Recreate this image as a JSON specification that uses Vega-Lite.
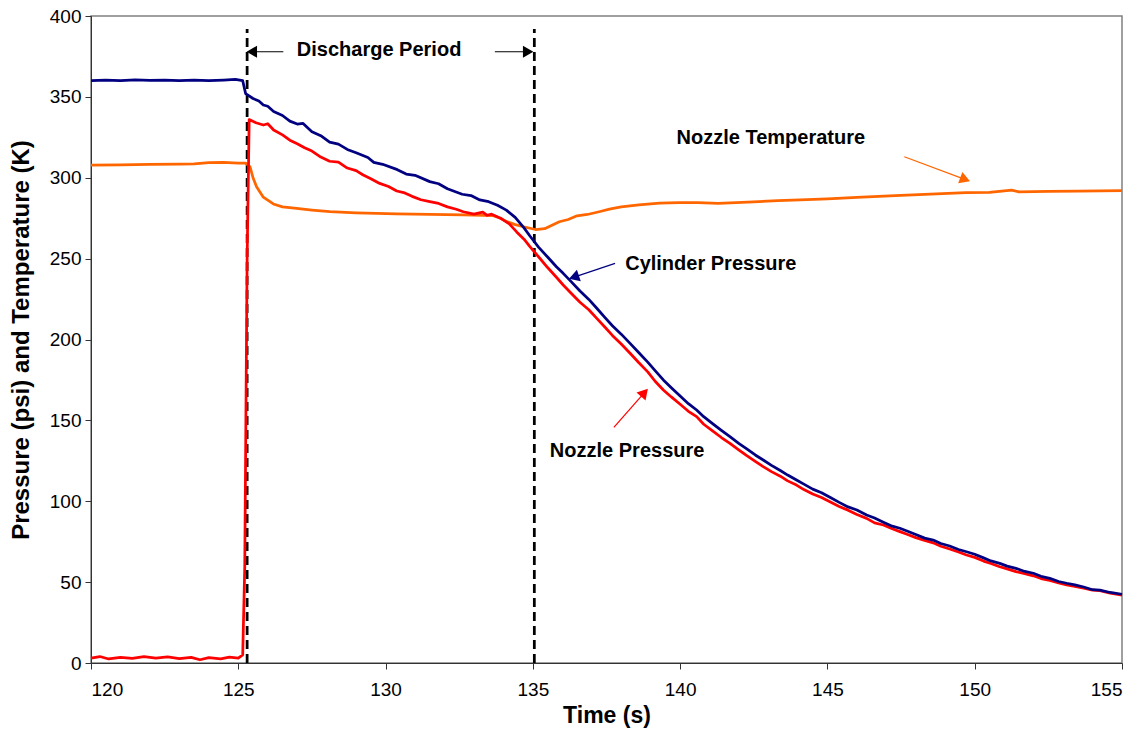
{
  "$schema": "https://vega.github.io/schema/vega-lite/v6.json",
  "width": 1031,
  "height": 647,
  "autosize": {"type": "none"},
  "padding": {"left": 91, "top": 16, "right": 19, "bottom": 75},
  "background": "white",
  "config": {
    "font": "Liberation Sans",
    "view": {"stroke": "#808080", "strokeWidth": 1.5},
    "axis": {
      "grid": false,
      "domainColor": "#333333",
      "tickColor": "#333333",
      "tickSize": 6,
      "labelFont": "Liberation Sans",
      "labelFontSize": 19,
      "labelColor": "#000000",
      "titleFont": "Liberation Sans",
      "titleFontWeight": "bold",
      "titleColor": "#000000"
    }
  },
  "datasets": {
    "cyl": [
      {"t": 120, "v": 360}, {"t": 120.5, "v": 360.3}, {"t": 121, "v": 360}, {"t": 121.5, "v": 360.5},
      {"t": 122, "v": 360.2}, {"t": 122.5, "v": 360.4}, {"t": 123, "v": 360}, {"t": 123.5, "v": 360.3},
      {"t": 124, "v": 360.1}, {"t": 124.5, "v": 360.4}, {"t": 124.9, "v": 360.8}, {"t": 125.15, "v": 360},
      {"t": 125.25, "v": 352}, {"t": 125.5, "v": 349}, {"t": 125.7, "v": 347.5}, {"t": 125.85, "v": 345},
      {"t": 126.0, "v": 344.2}, {"t": 126.2, "v": 341}, {"t": 126.5, "v": 338.5}, {"t": 126.75, "v": 335},
      {"t": 127, "v": 333.2}, {"t": 127.2, "v": 333.6}, {"t": 127.5, "v": 328.5}, {"t": 127.8, "v": 326},
      {"t": 128.1, "v": 322}, {"t": 128.4, "v": 320.8}, {"t": 128.7, "v": 317.5}, {"t": 129.0, "v": 315.5},
      {"t": 129.4, "v": 312.5}, {"t": 129.6, "v": 309.5}, {"t": 129.9, "v": 308.3}, {"t": 130.4, "v": 305},
      {"t": 130.7, "v": 302.3}, {"t": 131, "v": 301.5}, {"t": 131.5, "v": 297.6}, {"t": 131.8, "v": 296.3},
      {"t": 132.1, "v": 293.2}, {"t": 132.6, "v": 289.8}, {"t": 132.9, "v": 289}, {"t": 133.2, "v": 286.3},
      {"t": 133.5, "v": 285.2}, {"t": 133.8, "v": 283}, {"t": 134.1, "v": 280}, {"t": 134.4, "v": 275.5},
      {"t": 134.7, "v": 269}, {"t": 134.9, "v": 264}, {"t": 135.2, "v": 257}, {"t": 135.5, "v": 251},
      {"t": 135.8, "v": 245}, {"t": 136.03, "v": 240.9}, {"t": 136.3, "v": 235.8}, {"t": 136.6, "v": 230},
      {"t": 136.9, "v": 224.8}, {"t": 137.17, "v": 219.3}, {"t": 137.45, "v": 213.5}, {"t": 137.7, "v": 208.5},
      {"t": 138.0, "v": 203.3}, {"t": 138.3, "v": 197.6}, {"t": 138.6, "v": 191.8}, {"t": 138.9, "v": 186},
      {"t": 139.15, "v": 180.8}, {"t": 139.43, "v": 175}, {"t": 139.7, "v": 170.2}, {"t": 140, "v": 165},
      {"t": 140.28, "v": 160.3}, {"t": 140.56, "v": 156.4}, {"t": 140.8, "v": 152.3}, {"t": 141.1, "v": 148},
      {"t": 141.4, "v": 143.8}, {"t": 141.69, "v": 139.9}, {"t": 142.0, "v": 135.6}, {"t": 142.25, "v": 132.5},
      {"t": 142.55, "v": 128.6}, {"t": 142.82, "v": 125.5}, {"t": 143.1, "v": 122.2}, {"t": 143.4, "v": 119},
      {"t": 143.65, "v": 116.2}, {"t": 143.95, "v": 113.1}, {"t": 144.2, "v": 110.6}, {"t": 144.5, "v": 107.5},
      {"t": 144.8, "v": 105.3}, {"t": 145.1, "v": 102.3}, {"t": 145.4, "v": 99.3}, {"t": 145.7, "v": 96.5},
      {"t": 146.0, "v": 94.6}, {"t": 146.33, "v": 91.5}, {"t": 146.6, "v": 89.6}, {"t": 146.9, "v": 87},
      {"t": 147.2, "v": 84.6}, {"t": 147.46, "v": 83.3}, {"t": 147.7, "v": 81.6}, {"t": 148, "v": 79.5},
      {"t": 148.3, "v": 77.2}, {"t": 148.59, "v": 76}, {"t": 148.85, "v": 73.9}, {"t": 149.15, "v": 72.3},
      {"t": 149.45, "v": 70.2}, {"t": 149.72, "v": 68.8}, {"t": 150.0, "v": 67.2}, {"t": 150.3, "v": 65},
      {"t": 150.55, "v": 63.1}, {"t": 150.85, "v": 61.6}, {"t": 151.1, "v": 59.9}, {"t": 151.4, "v": 58.5},
      {"t": 151.7, "v": 56.6}, {"t": 151.99, "v": 55.5}, {"t": 152.25, "v": 53.6}, {"t": 152.55, "v": 52.3},
      {"t": 152.85, "v": 50.4}, {"t": 153.12, "v": 49.3}, {"t": 153.4, "v": 48.3}, {"t": 153.7, "v": 47},
      {"t": 154.0, "v": 45.3}, {"t": 154.25, "v": 45.1}, {"t": 154.6, "v": 43.6}, {"t": 155, "v": 42.5}
    ],
    "noz": [
      {"t": 120, "v": 3}, {"t": 120.3, "v": 4}, {"t": 120.6, "v": 2.5}, {"t": 121, "v": 3.5},
      {"t": 121.4, "v": 2.8}, {"t": 121.8, "v": 4}, {"t": 122.2, "v": 3}, {"t": 122.6, "v": 3.8},
      {"t": 123, "v": 2.7}, {"t": 123.4, "v": 3.5}, {"t": 123.7, "v": 2}, {"t": 124, "v": 3.3},
      {"t": 124.4, "v": 2.6}, {"t": 124.7, "v": 3.6}, {"t": 125, "v": 3}, {"t": 125.15, "v": 5},
      {"t": 125.22, "v": 60}, {"t": 125.3, "v": 250}, {"t": 125.37, "v": 336}, {"t": 125.6, "v": 334},
      {"t": 125.85, "v": 332.6}, {"t": 126.0, "v": 333.4}, {"t": 126.2, "v": 329.5}, {"t": 126.5, "v": 326.5},
      {"t": 126.75, "v": 323.2}, {"t": 127, "v": 321}, {"t": 127.25, "v": 318.6}, {"t": 127.5, "v": 316.5},
      {"t": 127.8, "v": 312.8}, {"t": 128.1, "v": 310.2}, {"t": 128.4, "v": 309.6}, {"t": 128.7, "v": 306},
      {"t": 129.0, "v": 304.4}, {"t": 129.24, "v": 301.7}, {"t": 129.5, "v": 299.4}, {"t": 129.8, "v": 296.5},
      {"t": 130.1, "v": 294.6}, {"t": 130.38, "v": 291.8}, {"t": 130.65, "v": 290.6}, {"t": 130.9, "v": 288.5},
      {"t": 131.2, "v": 286.4}, {"t": 131.5, "v": 285.2}, {"t": 131.8, "v": 284.1}, {"t": 132.1, "v": 282},
      {"t": 132.4, "v": 280.5}, {"t": 132.64, "v": 279}, {"t": 133, "v": 277.5}, {"t": 133.3, "v": 278.8},
      {"t": 133.45, "v": 276.8}, {"t": 133.6, "v": 277.5}, {"t": 133.9, "v": 275}, {"t": 134.2, "v": 271.5},
      {"t": 134.45, "v": 266.5}, {"t": 134.7, "v": 262}, {"t": 134.9, "v": 257.4}, {"t": 135.2, "v": 251},
      {"t": 135.5, "v": 244.5}, {"t": 135.8, "v": 238.5}, {"t": 136.03, "v": 233.7}, {"t": 136.3, "v": 228.6},
      {"t": 136.6, "v": 223}, {"t": 136.9, "v": 218.4}, {"t": 137.17, "v": 213.1}, {"t": 137.45, "v": 207.6},
      {"t": 137.7, "v": 202.5}, {"t": 138.0, "v": 197.2}, {"t": 138.3, "v": 191.5}, {"t": 138.6, "v": 185.6},
      {"t": 138.9, "v": 180}, {"t": 139.15, "v": 174.2}, {"t": 139.43, "v": 168.8}, {"t": 139.7, "v": 164.5},
      {"t": 140, "v": 160}, {"t": 140.28, "v": 155.6}, {"t": 140.56, "v": 152.3}, {"t": 140.8, "v": 147.6},
      {"t": 141.1, "v": 143.5}, {"t": 141.4, "v": 139.4}, {"t": 141.69, "v": 135.8}, {"t": 142.0, "v": 131.6},
      {"t": 142.25, "v": 128.3}, {"t": 142.55, "v": 124.6}, {"t": 142.82, "v": 121.4}, {"t": 143.1, "v": 118.3},
      {"t": 143.4, "v": 115.5}, {"t": 143.65, "v": 112.6}, {"t": 143.95, "v": 110}, {"t": 144.2, "v": 107.2},
      {"t": 144.5, "v": 104.5}, {"t": 144.8, "v": 102.3}, {"t": 145.1, "v": 99.5}, {"t": 145.4, "v": 96.7},
      {"t": 145.7, "v": 94.5}, {"t": 146.0, "v": 91.8}, {"t": 146.33, "v": 89.4}, {"t": 146.6, "v": 86.6},
      {"t": 146.9, "v": 85.3}, {"t": 147.2, "v": 83}, {"t": 147.46, "v": 81.2}, {"t": 147.7, "v": 79.6},
      {"t": 148, "v": 77.5}, {"t": 148.3, "v": 75.8}, {"t": 148.59, "v": 74.3}, {"t": 148.85, "v": 72.2},
      {"t": 149.15, "v": 70.5}, {"t": 149.45, "v": 68.6}, {"t": 149.72, "v": 66.8}, {"t": 150.0, "v": 65.3},
      {"t": 150.3, "v": 63}, {"t": 150.55, "v": 61.5}, {"t": 150.85, "v": 59.5}, {"t": 151.1, "v": 58.2},
      {"t": 151.4, "v": 56.5}, {"t": 151.7, "v": 55.3}, {"t": 151.99, "v": 53.9}, {"t": 152.25, "v": 52.2},
      {"t": 152.55, "v": 51}, {"t": 152.85, "v": 49.5}, {"t": 153.12, "v": 48.3}, {"t": 153.4, "v": 47.4},
      {"t": 153.7, "v": 46.3}, {"t": 154.0, "v": 45.0}, {"t": 154.25, "v": 44.7}, {"t": 154.6, "v": 43.2},
      {"t": 155, "v": 42}
    ],
    "temp": [
      {"t": 120, "v": 307.8}, {"t": 121, "v": 308}, {"t": 122, "v": 308.2}, {"t": 123, "v": 308.4},
      {"t": 123.5, "v": 308.6}, {"t": 124, "v": 309.3}, {"t": 124.5, "v": 309.5}, {"t": 125, "v": 309},
      {"t": 125.25, "v": 309}, {"t": 125.4, "v": 306.8}, {"t": 125.5, "v": 300}, {"t": 125.62, "v": 294.5},
      {"t": 125.85, "v": 288}, {"t": 126.19, "v": 283.8}, {"t": 126.5, "v": 282}, {"t": 126.98, "v": 281},
      {"t": 127.5, "v": 280}, {"t": 128.11, "v": 279}, {"t": 129, "v": 278.3}, {"t": 130.38, "v": 277.6},
      {"t": 131.5, "v": 277.3}, {"t": 132.64, "v": 277}, {"t": 133.66, "v": 276.6}, {"t": 133.9, "v": 275},
      {"t": 134.11, "v": 272.9}, {"t": 134.4, "v": 271}, {"t": 134.68, "v": 269.7}, {"t": 135.09, "v": 268},
      {"t": 135.4, "v": 268.5}, {"t": 135.9, "v": 272.8}, {"t": 136.2, "v": 274.2}, {"t": 136.5, "v": 276.5},
      {"t": 136.85, "v": 277.3}, {"t": 137.25, "v": 279}, {"t": 137.6, "v": 280.6}, {"t": 138, "v": 282},
      {"t": 138.6, "v": 283.2}, {"t": 139.3, "v": 284.3}, {"t": 139.95, "v": 284.6}, {"t": 140.6, "v": 284.6},
      {"t": 141.29, "v": 284.2}, {"t": 142.3, "v": 285}, {"t": 143.31, "v": 285.8}, {"t": 144.07, "v": 286.3},
      {"t": 145, "v": 287}, {"t": 146, "v": 287.9}, {"t": 147.3, "v": 289}, {"t": 148.7, "v": 290},
      {"t": 149.7, "v": 290.8}, {"t": 150.5, "v": 291}, {"t": 151.25, "v": 292.4}, {"t": 151.5, "v": 291.3},
      {"t": 152.5, "v": 291.5}, {"t": 153.5, "v": 291.8}, {"t": 155, "v": 292}
    ],
    "vlines": [
      {"t": 125.3, "v0": 0, "v1": 392},
      {"t": 135.05, "v0": 0, "v1": 392}
    ],
    "labels": [
      {"label": "Discharge Period", "t": 129.78, "v": 375.5},
      {"label": "Nozzle Temperature", "t": 143.08, "v": 320.7},
      {"label": "Cylinder Pressure", "t": 141.04, "v": 243.0},
      {"label": "Nozzle Pressure", "t": 138.2, "v": 127.5}
    ],
    "arrows": [
      {"a": "period start", "t": 126.53, "v": 377.9, "t2": 125.46, "v2": 377.9},
      {"a": "period end", "t": 133.71, "v": 377.9, "t2": 134.84, "v2": 377.9},
      {"a": "Nozzle Temperature", "t": 147.61, "v": 313.0, "t2": 149.62, "v2": 299.3},
      {"a": "Cylinder Pressure", "t": 137.79, "v": 247.1, "t2": 136.45, "v2": 238.9},
      {"a": "Nozzle Pressure", "t": 137.75, "v": 145.7, "t2": 138.75, "v2": 166.4}
    ]
  },
  "encoding": {
    "x": {
      "field": "t", "type": "quantitative",
      "scale": {"domain": [120, 155], "nice": false, "zero": false},
      "axis": {"title": "Time (s)", "values": [120, 125, 130, 135, 140, 145, 150, 155], "labelPadding": 11, "titleFontSize": 23, "titlePadding": 5}
    },
    "y": {
      "field": "v", "type": "quantitative",
      "scale": {"domain": [0, 400], "nice": false},
      "axis": {"title": "Pressure (psi) and Temperature (K)", "values": [0, 50, 100, 150, 200, 250, 300, 350, 400], "labelPadding": 4, "titleFontSize": 24, "titlePadding": 16}
    }
  },
  "layer": [
    {
      "data": {"name": "vlines"},
      "mark": {"type": "rule", "color": "#000000", "strokeWidth": 2.75, "strokeDash": [9, 5]},
      "encoding": {"y": {"field": "v0", "type": "quantitative"}, "y2": {"field": "v1"}}
    },
    {
      "data": {"name": "temp"},
      "mark": {"type": "line", "color": "#FF6600", "strokeWidth": 2.75, "strokeJoin": "round"}
    },
    {
      "data": {"name": "noz"},
      "mark": {"type": "line", "color": "#FF0000", "strokeWidth": 2.75, "strokeJoin": "round"}
    },
    {
      "data": {"name": "cyl"},
      "mark": {"type": "line", "color": "#000080", "strokeWidth": 2.75, "strokeJoin": "round"}
    },
    {
      "data": {"name": "arrows"},
      "mark": {"type": "rule", "strokeWidth": 1.2},
      "encoding": {
        "x2": {"field": "t2"},
        "y2": {"field": "v2"},
        "color": {
          "field": "a", "type": "nominal", "legend": null,
          "scale": {"domain": ["period start", "period end", "Nozzle Temperature", "Cylinder Pressure", "Nozzle Pressure"],
                    "range": ["#000000", "#000000", "#FF6600", "#000080", "#FF0000"]}
        }
      }
    },
    {
      "data": {"name": "arrows"},
      "transform": [{"filter": "datum.a === 'period start'"}],
      "mark": {"type": "point", "shape": "triangle-left", "filled": true, "size": 144, "opacity": 1, "color": "#000000"},
      "encoding": {"x": {"field": "t2", "type": "quantitative"}, "y": {"field": "v2", "type": "quantitative"}}
    },
    {
      "data": {"name": "arrows"},
      "transform": [{"filter": "datum.a === 'period end'"}],
      "mark": {"type": "point", "shape": "triangle-right", "filled": true, "size": 144, "opacity": 1, "color": "#000000"},
      "encoding": {"x": {"field": "t2", "type": "quantitative"}, "y": {"field": "v2", "type": "quantitative"}}
    },
    {
      "data": {"name": "arrows"},
      "transform": [{"filter": "datum.a === 'Nozzle Temperature'"}],
      "mark": {"type": "point", "shape": "triangle", "angle": 110.6, "filled": true, "size": 144, "opacity": 1, "color": "#FF6600"},
      "encoding": {"x": {"field": "t2", "type": "quantitative"}, "y": {"field": "v2", "type": "quantitative"}}
    },
    {
      "data": {"name": "arrows"},
      "transform": [{"filter": "datum.a === 'Cylinder Pressure'"}],
      "mark": {"type": "point", "shape": "triangle", "angle": 251.3, "filled": true, "size": 144, "opacity": 1, "color": "#000080"},
      "encoding": {"x": {"field": "t2", "type": "quantitative"}, "y": {"field": "v2", "type": "quantitative"}}
    },
    {
      "data": {"name": "arrows"},
      "transform": [{"filter": "datum.a === 'Nozzle Pressure'"}],
      "mark": {"type": "point", "shape": "triangle", "angle": 41.2, "filled": true, "size": 144, "opacity": 1, "color": "#FF0000"},
      "encoding": {"x": {"field": "t2", "type": "quantitative"}, "y": {"field": "v2", "type": "quantitative"}}
    },
    {
      "data": {"name": "labels"},
      "mark": {"type": "text", "font": "Liberation Sans", "fontWeight": "bold", "fontSize": 20, "align": "center", "baseline": "alphabetic", "color": "#000000"},
      "encoding": {"text": {"field": "label", "type": "nominal"}}
    }
  ]
}
